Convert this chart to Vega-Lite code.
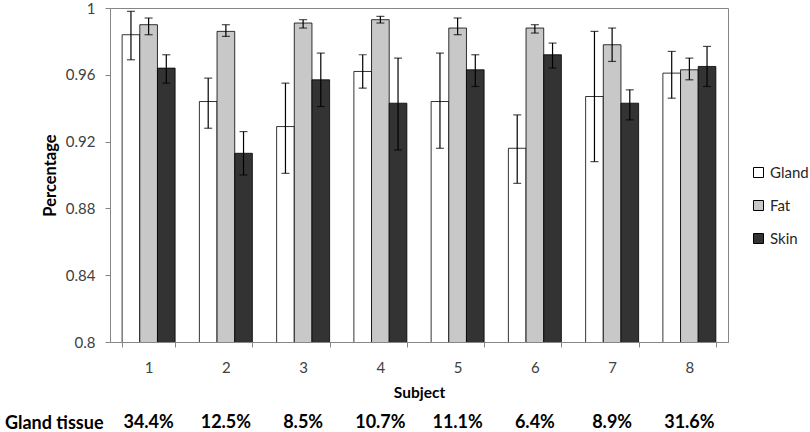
{
  "$schema": "https://vega.github.io/schema/vega-lite/v6.json",
  "background": "white",
  "padding": {"left": 4, "top": 0, "right": 14, "bottom": 0},
  "spacing": 12,
  "config": {
    "font": "Lato",
    "legend": {"labelFont": "Lato"}
  },
  "vconcat": [
    {
      "width": 618,
      "height": 334,
      "view": {"stroke": "#868686", "strokeWidth": 1},
      "data": {
        "values": [
          {"Subject": 1, "Tissue": "Gland", "Mean": 0.984, "Low": 0.969, "High": 0.998},
          {"Subject": 1, "Tissue": "Fat", "Mean": 0.990, "Low": 0.984, "High": 0.994},
          {"Subject": 1, "Tissue": "Skin", "Mean": 0.964, "Low": 0.955, "High": 0.972},
          {"Subject": 2, "Tissue": "Gland", "Mean": 0.944, "Low": 0.928, "High": 0.958},
          {"Subject": 2, "Tissue": "Fat", "Mean": 0.986, "Low": 0.983, "High": 0.990},
          {"Subject": 2, "Tissue": "Skin", "Mean": 0.913, "Low": 0.900, "High": 0.926},
          {"Subject": 3, "Tissue": "Gland", "Mean": 0.929, "Low": 0.901, "High": 0.955},
          {"Subject": 3, "Tissue": "Fat", "Mean": 0.991, "Low": 0.988, "High": 0.993},
          {"Subject": 3, "Tissue": "Skin", "Mean": 0.957, "Low": 0.941, "High": 0.973},
          {"Subject": 4, "Tissue": "Gland", "Mean": 0.962, "Low": 0.952, "High": 0.972},
          {"Subject": 4, "Tissue": "Fat", "Mean": 0.993, "Low": 0.991, "High": 0.995},
          {"Subject": 4, "Tissue": "Skin", "Mean": 0.943, "Low": 0.915, "High": 0.970},
          {"Subject": 5, "Tissue": "Gland", "Mean": 0.944, "Low": 0.916, "High": 0.973},
          {"Subject": 5, "Tissue": "Fat", "Mean": 0.988, "Low": 0.984, "High": 0.994},
          {"Subject": 5, "Tissue": "Skin", "Mean": 0.963, "Low": 0.953, "High": 0.972},
          {"Subject": 6, "Tissue": "Gland", "Mean": 0.916, "Low": 0.895, "High": 0.936},
          {"Subject": 6, "Tissue": "Fat", "Mean": 0.988, "Low": 0.985, "High": 0.990},
          {"Subject": 6, "Tissue": "Skin", "Mean": 0.972, "Low": 0.964, "High": 0.979},
          {"Subject": 7, "Tissue": "Gland", "Mean": 0.947, "Low": 0.908, "High": 0.986},
          {"Subject": 7, "Tissue": "Fat", "Mean": 0.978, "Low": 0.968, "High": 0.988},
          {"Subject": 7, "Tissue": "Skin", "Mean": 0.943, "Low": 0.933, "High": 0.951},
          {"Subject": 8, "Tissue": "Gland", "Mean": 0.961, "Low": 0.946, "High": 0.974},
          {"Subject": 8, "Tissue": "Fat", "Mean": 0.963, "Low": 0.957, "High": 0.970},
          {"Subject": 8, "Tissue": "Skin", "Mean": 0.965, "Low": 0.953, "High": 0.977}
        ]
      },
      "encoding": {
        "x": {
          "field": "Subject",
          "type": "ordinal",
          "scale": {"paddingInner": 0.314, "paddingOuter": 0.157},
          "axis": {
            "title": "Subject",
            "labelAngle": 0,
            "tickBand": "extent",
            "tickSize": 5,
            "tickColor": "#868686",
            "domainColor": "#868686",
            "labelFontSize": 15,
            "labelColor": "#404040",
            "labelPadding": 13,
            "titleFontSize": 15.5,
            "titleFontWeight": "bold",
            "titleColor": "black",
            "titlePadding": 10
          }
        },
        "xOffset": {"field": "Tissue", "type": "nominal", "sort": ["Gland", "Fat", "Skin"]}
      },
      "layer": [
        {
          "mark": {"type": "bar", "stroke": "black", "strokeWidth": 0.8, "clip": true},
          "encoding": {
            "y": {
              "field": "Mean",
              "type": "quantitative",
              "scale": {"domain": [0.8, 1], "nice": false, "zero": false},
              "axis": {
                "title": "Percentage",
                "values": [0.8, 0.84, 0.88, 0.92, 0.96, 1],
                "format": "~g",
                "grid": false,
                "tickSize": 5,
                "tickColor": "#868686",
                "domainColor": "#868686",
                "labelFontSize": 15,
                "labelColor": "#404040",
                "labelPadding": 10,
                "titleFontSize": 16.5,
                "titleFontWeight": "bold",
                "titleColor": "black",
                "titlePadding": 7
              }
            },
            "color": {
              "field": "Tissue",
              "type": "nominal",
              "sort": ["Gland", "Fat", "Skin"],
              "scale": {"domain": ["Gland", "Fat", "Skin"], "range": ["#ffffff", "#c8c8c8", "#333333"]},
              "legend": {
                "title": null,
                "orient": "none",
                "legendX": 641,
                "legendY": 157,
                "symbolType": "square",
                "symbolSize": 100,
                "symbolStrokeColor": "black",
                "symbolStrokeWidth": 1,
                "labelFontSize": 15,
                "labelColor": "#262626",
                "rowPadding": 17,
                "labelOffset": 4
              }
            }
          }
        },
        {
          "mark": {"type": "rule", "color": "black", "strokeWidth": 1.2},
          "encoding": {
            "y": {"field": "Low", "type": "quantitative", "axis": {"title": "Percentage"}},
            "y2": {"field": "High"}
          }
        },
        {
          "mark": {"type": "tick", "color": "black", "thickness": 1.2, "size": 8},
          "encoding": {
            "y": {"field": "Low", "type": "quantitative", "axis": {"title": "Percentage"}}
          }
        },
        {
          "mark": {"type": "tick", "color": "black", "thickness": 1.2, "size": 8},
          "encoding": {
            "y": {"field": "High", "type": "quantitative", "axis": {"title": "Percentage"}}
          }
        }
      ]
    },
    {
      "width": 618,
      "height": 20,
      "view": {"stroke": null},
      "data": {
        "values": [
          {"Subject": 1, "Row": "Gland tissue", "Share": "34.4%"},
          {"Subject": 2, "Row": "Gland tissue", "Share": "12.5%"},
          {"Subject": 3, "Row": "Gland tissue", "Share": "8.5%"},
          {"Subject": 4, "Row": "Gland tissue", "Share": "10.7%"},
          {"Subject": 5, "Row": "Gland tissue", "Share": "11.1%"},
          {"Subject": 6, "Row": "Gland tissue", "Share": "6.4%"},
          {"Subject": 7, "Row": "Gland tissue", "Share": "8.9%"},
          {"Subject": 8, "Row": "Gland tissue", "Share": "31.6%"}
        ]
      },
      "mark": {"type": "text", "fontWeight": "bold", "fontSize": 18, "color": "black"},
      "encoding": {
        "x": {
          "field": "Subject",
          "type": "ordinal",
          "scale": {"paddingInner": 0.314, "paddingOuter": 0.157},
          "axis": null
        },
        "y": {
          "field": "Row",
          "type": "nominal",
          "axis": {
            "title": null,
            "domain": false,
            "ticks": false,
            "labelFontWeight": "bold",
            "labelFontSize": 18,
            "labelColor": "black",
            "labelPadding": 7
          }
        },
        "text": {"field": "Share"}
      }
    }
  ]
}
